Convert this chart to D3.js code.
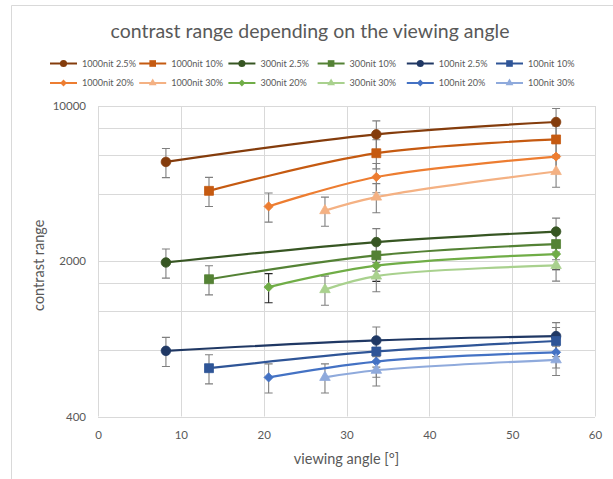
<!DOCTYPE html>
<html>
<head>
<meta charset="utf-8">
<script src="https://cdn.jsdelivr.net/npm/d3@7"></script>
<style>
  html, body { margin: 0; padding: 0; background: #ffffff; }
  svg { display: block; font-family: Lato, "Open Sans", sans-serif; }
</style>
</head>
<body>
<svg id="chart" width="613" height="479"></svg>
<script>
// Viewing angles [°] at which each contrast level was measured
const angles2_5 = [8.2, 33.6, 55.3];
const angles10  = [13.4, 33.6, 55.3];
const angles20  = [20.6, 33.6, 55.3];
const angles30  = [27.4, 33.6, 55.3];

// Contrast range per luminance / contrast level
const c1000_2_5 = [5600, 7450, 8470];
const c1000_10  = [4150, 6130, 7070];
const c1000_20  = [3530, 4790, 5920];
const c1000_30  = [3380, 3890, 5070];
const c300_2_5  = [1975, 2440, 2720];
const c300_10   = [1660, 2125, 2390];
const c300_20   = [1530, 1910, 2155];
const c300_30   = [1490, 1715, 1915];
const c100_2_5  = [790, 880, 920];
const c100_10   = [660, 785, 875];
const c100_20   = [600, 707, 778];
const c100_30   = [600, 646, 720];

// Percentage error bars (± of value)
const errorPercent = 15;

// Axis ticks
const xTicks = [0, 10, 20, 30, 40, 50, 60];
const yTicks = [400, 2000, 10000];
const yMinorTicks = [800, 1200, 1600, 4000, 6000, 8000];

const series = [
  { name: "1000nit 2.5%", x: angles2_5, y: c1000_2_5, color: "#843c0c", shape: "circle" },
  { name: "1000nit 10%",  x: angles10,  y: c1000_10,  color: "#c55a11", shape: "square" },
  { name: "1000nit 20%",  x: angles20,  y: c1000_20,  color: "#ed7d31", shape: "diamond" },
  { name: "1000nit 30%",  x: angles30,  y: c1000_30,  color: "#f4b183", shape: "triangle" },
  { name: "300nit 2.5%",  x: angles2_5, y: c300_2_5,  color: "#375623", shape: "circle" },
  { name: "300nit 10%",   x: angles10,  y: c300_10,   color: "#548235", shape: "square" },
  { name: "300nit 20%",   x: angles20,  y: c300_20,   color: "#70ad47", shape: "diamond", errColor: "#262626" },
  { name: "300nit 30%",   x: angles30,  y: c300_30,   color: "#a9d18e", shape: "triangle" },
  { name: "100nit 2.5%",  x: angles2_5, y: c100_2_5,  color: "#203864", shape: "circle" },
  { name: "100nit 10%",   x: angles10,  y: c100_10,   color: "#2f5597", shape: "square" },
  { name: "100nit 20%",   x: angles20,  y: c100_20,   color: "#4472c4", shape: "diamond" },
  { name: "100nit 30%",   x: angles30,  y: c100_30,   color: "#8faadc", shape: "triangle" }
];

// Legend order: two rows, six columns
const legendOrder = [
  "1000nit 2.5%", "1000nit 10%", "300nit 2.5%", "300nit 10%", "100nit 2.5%", "100nit 10%",
  "1000nit 20%", "1000nit 30%", "300nit 20%", "300nit 30%", "100nit 20%", "100nit 30%"
];

const svg = d3.select("#chart");
const W = 613, H = 479;
const margin = { left: 98, right: 18, top: 106, bottom: 62.5 };
const plotW = W - margin.left - margin.right;
const plotH = H - margin.top - margin.bottom;

const textColor = "#595959";
const gridColor = "#d9d9d9";

// Chart frame
svg.append("path")
  .attr("d", `M11.5,${H} V5.5 H${W}`)
  .attr("fill", "none")
  .attr("stroke", gridColor)
  .attr("stroke-width", 1);

// Title
svg.append("text")
  .attr("x", 310).attr("y", 38)
  .attr("text-anchor", "middle")
  .attr("fill", textColor)
  .attr("font-size", 19.5)
  .text("contrast range depending on the viewing angle");

const x = d3.scaleLinear().domain([0, 60]).range([margin.left, margin.left + plotW]);
const y = d3.scaleLog().domain([400, 10000]).range([margin.top + plotH, margin.top]);

// Gridlines
const grid = svg.append("g").attr("stroke", gridColor).attr("stroke-width", 1);
grid.selectAll("line.h").data(yTicks.concat(yMinorTicks)).join("line")
  .attr("class", "h")
  .attr("x1", x(0)).attr("x2", x(60))
  .attr("y1", d => Math.round(y(d)) + 0.5).attr("y2", d => Math.round(y(d)) + 0.5);
grid.selectAll("line.v").data(xTicks).join("line")
  .attr("class", "v")
  .attr("x1", d => Math.round(x(d)) + 0.5).attr("x2", d => Math.round(x(d)) + 0.5)
  .attr("y1", y(10000)).attr("y2", y(400));

// Axes (labels only)
const xAxis = svg.append("g")
  .attr("transform", `translate(0,${y(400)})`)
  .call(d3.axisBottom(x).tickValues(xTicks).tickSize(0).tickPadding(14).tickFormat(d3.format("d")));
const yAxis = svg.append("g")
  .attr("transform", `translate(${x(0)},0)`)
  .call(d3.axisLeft(y).tickValues(yTicks).tickSize(0).tickPadding(12).tickFormat(d3.format("d")));
[xAxis, yAxis].forEach(a => {
  a.select(".domain").remove();
  a.selectAll("text").attr("fill", textColor).attr("font-size", 11.5).attr("font-family", "Lato, sans-serif");
});

// Axis titles
svg.append("text")
  .attr("x", x(30)).attr("y", 464)
  .attr("text-anchor", "middle")
  .attr("fill", textColor)
  .attr("font-size", 14.5)
  .text("viewing angle [°]");
svg.append("text")
  .attr("transform", `translate(44,${y(2000) + 4}) rotate(-90)`)
  .attr("text-anchor", "middle")
  .attr("fill", textColor)
  .attr("font-size", 14.5)
  .text("contrast range");

// Marker symbols
function symbolPath(shape, scale) {
  const k = scale || 1;
  if (shape === "circle") return d3.symbol(d3.symbolCircle, 72 * k)();
  if (shape === "square") return d3.symbol(d3.symbolSquare, 80 * k)();
  if (shape === "diamond") return d3.symbol(d3.symbolSquare, 42 * k)();
  return d3.symbol(d3.symbolTriangle, 48 * k)();
}
function symbolRotate(shape) { return shape === "diamond" ? " rotate(45)" : ""; }

const line = d3.line()
  .x(d => x(d[0]))
  .y(d => y(d[1]))
  .curve(d3.curveCatmullRom.alpha(0.5));

const plot = svg.append("g");

// Error bars
series.forEach(s => {
  const pts = s.x.map((a, i) => [a, s.y[i]]);
  const eb = plot.append("g")
    .attr("stroke", s.errColor || "#7f7f7f")
    .attr("stroke-width", 1.1)
    .attr("fill", "none");
  eb.selectAll("path").data(pts).join("path")
    .attr("d", d => {
      const cx = x(d[0]);
      const hi = y(d[1] * (1 + errorPercent / 100));
      const lo = y(d[1] * (1 - errorPercent / 100));
      return `M${cx},${hi} V${lo} M${cx - 4},${hi} H${cx + 4} M${cx - 4},${lo} H${cx + 4}`;
    });
});

// Lines and markers
series.forEach(s => {
  const pts = s.x.map((a, i) => [a, s.y[i]]);
  plot.append("path")
    .datum(pts)
    .attr("d", line)
    .attr("fill", "none")
    .attr("stroke", s.color)
    .attr("stroke-width", 2.2)
    .attr("stroke-linecap", "round");
  plot.append("g").selectAll("path").data(pts).join("path")
    .attr("d", symbolPath(s.shape))
    .attr("transform", d => `translate(${x(d[0])},${y(d[1])})${symbolRotate(s.shape)}`)
    .attr("fill", s.color)
    .attr("stroke", s.color)
    .attr("stroke-width", 0.8);
});

// Legend
const legendLeft = 50, legendColW = 89.2, legendRowY = [63.5, 83];
const legend = svg.append("g");
legendOrder.forEach((name, i) => {
  const s = series.find(d => d.name === name);
  const col = i % 6, row = Math.floor(i / 6);
  const g = legend.append("g")
    .attr("transform", `translate(${legendLeft + col * legendColW},${legendRowY[row]})`);
  g.append("line")
    .attr("x1", 0).attr("x2", 27)
    .attr("stroke", s.color).attr("stroke-width", 2);
  g.append("path")
    .attr("d", symbolPath(s.shape, 0.55))
    .attr("transform", `translate(13.5,0)${symbolRotate(s.shape)}`)
    .attr("fill", s.color);
  g.append("text")
    .attr("x", 32).attr("y", 3.3)
    .attr("fill", textColor)
    .attr("font-size", 9.1)
    .text(s.name);
});
</script>
</body>
</html>
